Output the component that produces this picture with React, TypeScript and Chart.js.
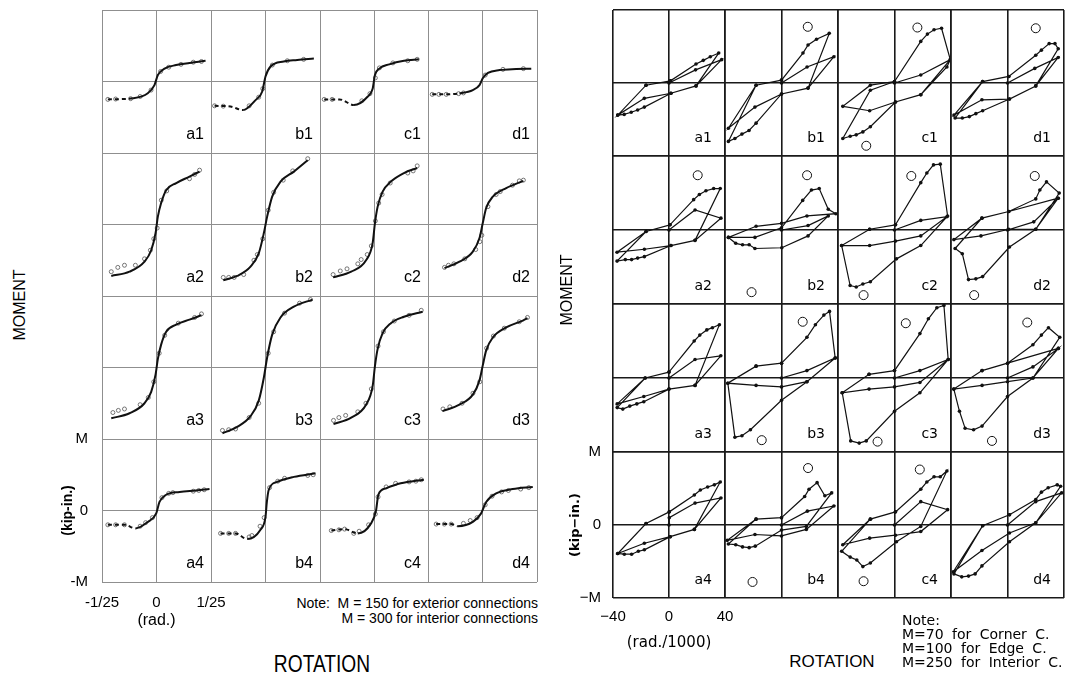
import React, { useEffect, useRef } from "react";
import { Chart, registerables } from "chart.js";
Chart.register(...registerables);

type Pt = [number, number];

// ---------- Axis ticks ----------
const leftXTicks = [-0.04, 0, 0.04];
const leftXTickLabels = ["-1/25", "0", "1/25"];
const leftYTicks = [-1, 0, 1];
const leftYTickLabels = ["-M", "0", "M"];
const rightXTicks = [-40, 0, 40];
const rightXTickLabels = ["\u221240", "0", "40"];
const rightYTicks = [-1, 0, 1];
const rightYTickLabels = ["\u2212M", "0", "M"];
const colLetters = ["a", "b", "c", "d"];

// ---------- Left figure: model curves (rotation in rad, moment in units of M) ----------
const curveA1: Pt[] = [[-0.0357,-0.25],[-0.0174,-0.235],[-0.0064,-0.165],[-0.0015,-0.05],[0.001,0.09],[0.0059,0.18],[0.0144,0.23],[0.0242,0.26],[0.036,0.29]];
const curveB1: Pt[] = [[-0.0374,-0.34],[-0.0257,-0.35],[-0.0164,-0.4],[-0.0073,-0.26],[-0.0024,-0.14],[0,0.07],[0.0037,0.21],[0.0134,0.28],[0.0233,0.3],[0.0355,0.32]];
const curveC1: Pt[] = [[-0.0369,-0.25],[-0.0255,-0.25],[-0.0149,-0.33],[-0.0046,-0.21],[-0.001,-0.1],[0.0007,0.09],[0.0039,0.18],[0.0113,0.24],[0.0222,0.29],[0.0332,0.31]];
const curveD1: Pt[] = [[-0.0369,-0.18],[-0.0266,-0.18],[-0.0169,-0.165],[-0.0071,-0.12],[-0.0022,-0.05],[0.0002,0.045],[0.004,0.12],[0.0125,0.16],[0.0247,0.175],[0.0358,0.18]];
const curveA2: Pt[] = [[-0.0332,-0.72],[-0.0198,-0.66],[-0.0088,-0.52],[-0.0039,-0.36],[-0.0007,-0.12],[0.001,0.11],[0.0034,0.3],[0.0071,0.48],[0.0145,0.58],[0.0242,0.67],[0.0316,0.74]];
const curveB2: Pt[] = [[-0.031,-0.78],[-0.0208,-0.72],[-0.011,-0.59],[-0.0049,-0.4],[-0.0012,-0.12],[0.0012,0.11],[0.0049,0.39],[0.011,0.6],[0.0208,0.74],[0.031,0.9]];
const curveC2: Pt[] = [[-0.0303,-0.74],[-0.0169,-0.66],[-0.0059,-0.5],[-0.001,-0.26],[0.0007,0.02],[0.0027,0.25],[0.0064,0.46],[0.0125,0.6],[0.0222,0.72],[0.032,0.79]];
const curveD2: Pt[] = [[-0.0279,-0.61],[-0.0169,-0.52],[-0.0071,-0.38],[-0.0022,-0.19],[0.0002,0.02],[0.0027,0.23],[0.0076,0.39],[0.0174,0.51],[0.03,0.61]];
const curveA3: Pt[] = [[-0.0332,-0.71],[-0.0198,-0.64],[-0.0088,-0.5],[-0.0039,-0.34],[-0.0007,-0.1],[0.001,0.12],[0.0034,0.32],[0.0071,0.5],[0.0145,0.6],[0.0242,0.67],[0.033,0.73]];
const curveB3: Pt[] = [[-0.0316,-0.92],[-0.0208,-0.83],[-0.011,-0.68],[-0.0049,-0.46],[-0.0012,-0.14],[0.0012,0.14],[0.0049,0.46],[0.011,0.7],[0.0208,0.85],[0.0345,0.95]];
const curveC3: Pt[] = [[-0.03,-0.79],[-0.0169,-0.7],[-0.0059,-0.52],[-0.001,-0.26],[0.0007,0.02],[0.0027,0.26],[0.0064,0.48],[0.0125,0.62],[0.0222,0.71],[0.036,0.78]];
const curveD3: Pt[] = [[-0.0294,-0.61],[-0.0169,-0.52],[-0.0071,-0.38],[-0.0022,-0.18],[0.0002,0.03],[0.0027,0.24],[0.0076,0.42],[0.0174,0.56],[0.03,0.66],[0.033,0.69]];
const curveA4: Pt[] = [[-0.0357,-0.2],[-0.0235,-0.2],[-0.0154,-0.25],[-0.0064,-0.16],[-0.0002,-0.04],[0.0022,0.12],[0.0071,0.22],[0.0169,0.26],[0.0291,0.28],[0.0389,0.3]];
const curveB4: Pt[] = [[-0.033,-0.32],[-0.022,-0.32],[-0.0134,-0.4],[-0.0037,-0.27],[0,-0.09],[0.001,0.12],[0.0024,0.29],[0.0086,0.4],[0.0208,0.47],[0.0367,0.52]];
const curveC4: Pt[] = [[-0.0316,-0.28],[-0.0218,-0.26],[-0.012,-0.32],[-0.0022,-0.18],[0.0015,0],[0.0032,0.22],[0.0088,0.31],[0.0198,0.38],[0.0369,0.43]];
const curveD4: Pt[] = [[-0.034,-0.19],[-0.023,-0.19],[-0.0181,-0.22],[-0.0071,-0.16],[-0.001,-0.04],[0.0027,0.12],[0.01,0.24],[0.0222,0.3],[0.0369,0.33]];

// ---------- Left figure: test points ----------
const testA1: Pt[] = [[-0.0357,-0.25],[-0.03,-0.245],[-0.019,-0.24],[-0.012,-0.21],[-0.004,-0.12],[0.003,0.14],[0.009,0.2],[0.018,0.24],[0.027,0.27],[0.033,0.28]];
const testB1: Pt[] = [[-0.0374,-0.34],[-0.031,-0.345],[-0.012,-0.34],[-0.005,-0.22],[-0.002,-0.1],[0.005,0.23],[0.016,0.29],[0.028,0.31]];
const testC1: Pt[] = [[-0.0369,-0.25],[-0.031,-0.25],[-0.009,-0.27],[-0.003,-0.17],[0.001,0.05],[0.004,0.19],[0.014,0.26],[0.025,0.29],[0.032,0.31]];
const testD1: Pt[] = [[-0.0369,-0.18],[-0.032,-0.18],[-0.0266,-0.18],[-0.0175,-0.17],[-0.014,-0.16],[0.002,0.09],[0.015,0.17],[0.03,0.18]];
const testA2: Pt[] = [[-0.0332,-0.66],[-0.0284,-0.6],[-0.0235,-0.57],[-0.0155,-0.57],[-0.0088,-0.48],[-0.0045,-0.36],[-0.002,-0.2],[0.0005,-0.05],[0.0035,0.34],[0.0075,0.47],[0.0242,0.64],[0.028,0.7],[0.0316,0.76]];
const testB2: Pt[] = [[-0.031,-0.74],[-0.027,-0.74],[-0.023,-0.74],[-0.016,-0.7],[-0.0085,-0.5],[-0.006,-0.42],[-0.002,-0.2],[0.002,0.2],[0.006,0.45],[0.013,0.62],[0.02,0.75],[0.031,0.92]];
const testC2: Pt[] = [[-0.0303,-0.7],[-0.025,-0.65],[-0.02,-0.62],[-0.012,-0.55],[-0.0095,-0.49],[-0.005,-0.42],[-0.002,-0.3],[0.001,0.05],[0.0035,0.3],[0.006,0.42],[0.012,0.58],[0.025,0.72],[0.029,0.75],[0.032,0.82]];
const testD2: Pt[] = [[-0.0279,-0.6],[-0.025,-0.57],[-0.021,-0.55],[-0.013,-0.48],[-0.005,-0.35],[-0.002,-0.24],[-0.0005,-0.15],[0.004,0.25],[0.01,0.42],[0.013,0.46],[0.022,0.55],[0.027,0.61],[0.03,0.62]];
const testA3: Pt[] = [[-0.032,-0.63],[-0.028,-0.6],[-0.0235,-0.58],[-0.012,-0.52],[-0.006,-0.42],[-0.002,-0.2],[0.002,0.2],[0.006,0.45],[0.016,0.62],[0.028,0.7],[0.033,0.75]];
const testB3: Pt[] = [[-0.0316,-0.88],[-0.027,-0.87],[-0.022,-0.86],[-0.012,-0.7],[-0.005,-0.5],[0.002,0.2],[0.006,0.5],[0.014,0.76],[0.025,0.9],[0.033,0.95]];
const testC3: Pt[] = [[-0.03,-0.74],[-0.026,-0.7],[-0.021,-0.67],[-0.012,-0.62],[-0.006,-0.5],[-0.002,-0.3],[0.003,0.3],[0.007,0.5],[0.015,0.65],[0.026,0.73],[0.035,0.8]];
const testD3: Pt[] = [[-0.029,-0.58],[-0.024,-0.55],[-0.015,-0.5],[-0.007,-0.36],[-0.002,-0.2],[0.003,0.27],[0.008,0.44],[0.016,0.55],[0.027,0.64],[0.033,0.7]];
const testA4: Pt[] = [[-0.0357,-0.2],[-0.03,-0.2],[-0.0235,-0.2],[-0.012,-0.22],[-0.008,-0.17],[-0.003,-0.1],[0.004,0.18],[0.009,0.24],[0.012,0.25],[0.027,0.27],[0.031,0.28],[0.035,0.29]];
const testB4: Pt[] = [[-0.033,-0.32],[-0.027,-0.32],[-0.022,-0.32],[-0.012,-0.37],[-0.01,-0.35],[-0.004,-0.22],[-0.001,-0.1],[0.003,0.32],[0.009,0.41],[0.014,0.45],[0.031,0.49],[0.035,0.5]];
const testC4: Pt[] = [[-0.0316,-0.28],[-0.026,-0.27],[-0.0218,-0.26],[-0.015,-0.32],[-0.011,-0.29],[-0.004,-0.2],[0.001,-0.05],[0.003,0.19],[0.009,0.33],[0.016,0.38],[0.026,0.4],[0.031,0.41],[0.035,0.43]];
const testD4: Pt[] = [[-0.034,-0.19],[-0.028,-0.19],[-0.023,-0.19],[-0.014,-0.18],[-0.009,-0.14],[-0.004,-0.1],[0.002,0.08],[0.007,0.2],[0.014,0.26],[0.019,0.28],[0.028,0.3],[0.034,0.32]];

// number of leading dashed segments (extrapolated part of model)
const dashA1 = 1, dashB1 = 2, dashC1 = 2, dashD1 = 2, dashA4 = 2, dashB4 = 2, dashC4 = 2, dashD4 = 2;

// ---------- Right figure: cyclic loops (rotation in rad/1000, moment in units of M) ----------
const loopA1: Pt[] = [[0,0],[19,0.18],[37.6,0.32],[19.3,-0.04],[1.4,-0.14],[-17.6,-0.21],[-36.6,-0.44],[-16.4,-0.03],[1,0.03],[19.3,0.26],[24.5,0.31],[29.5,0.36],[35.5,0.41],[19.3,-0.04],[1.4,-0.14],[-17.6,-0.33],[-22.4,-0.37],[-27,-0.4],[-32,-0.43],[-36.6,-0.44],[-16.4,-0.03],[1,0.03]];
const loopB1: Pt[] = [[0,0],[18.1,0.22],[37.1,0.36],[18.8,-0.07],[0,-0.15],[-18.8,-0.33],[-37.6,-0.62],[-18,-0.03],[0,0.04],[15.2,0.41],[18.8,0.52],[24.8,0.6],[33.8,0.68],[18.8,-0.07],[0,-0.15],[-18,-0.55],[-23,-0.65],[-28,-0.7],[-33,-0.76],[-37.6,-0.8],[-18,-0.03],[0,0.04]];
const loopC1: Pt[] = [[0,0],[18.6,0.11],[39.5,0.32],[37.1,0.22],[18.6,-0.16],[0.7,-0.26],[-17.6,-0.38],[-36.6,-0.32],[-17.1,-0.03],[0,0.02],[18.6,0.57],[23.3,0.67],[28,0.73],[33.3,0.75],[39.5,0.32],[18.6,-0.16],[0.7,-0.26],[-17.1,-0.6],[-22.4,-0.67],[-27.1,-0.71],[-31.4,-0.73],[-36.6,-0.76],[-17.1,-0.1],[0,0.02]];
const loopD1: Pt[] = [[0,0],[19.3,0.2],[35.9,0.35],[20,-0.04],[1.4,-0.22],[-18.1,-0.23],[-37.9,-0.44],[-17.6,0.02],[0.9,0.09],[20,0.38],[24,0.45],[29.5,0.54],[33.6,0.54],[35.9,0.47],[20,-0.04],[1.4,-0.22],[-17.6,-0.38],[-22.4,-0.42],[-27,-0.46],[-32,-0.48],[-37.1,-0.48],[-17.6,0.02],[0.9,0.09]];
const loopA2: Pt[] = [[0,0],[18.6,0.27],[37.1,0.16],[18.6,-0.14],[1.4,-0.21],[-17.6,-0.26],[-37.1,-0.3],[-16.4,-0.02],[0.7,0.07],[17.6,0.41],[21.7,0.48],[26.4,0.53],[31.9,0.56],[36.6,0.56],[18.6,-0.14],[1.4,-0.21],[-17.6,-0.36],[-22.4,-0.38],[-26.7,-0.4],[-31.2,-0.4],[-37.1,-0.42],[-16.4,-0.02],[0.7,0.07]];
const loopB2: Pt[] = [[0,0],[18.8,0.06],[33.1,0.19],[18.8,-0.08],[0.2,-0.24],[-18.8,-0.25],[-22.9,-0.2],[-27.6,-0.2],[-32.4,-0.18],[-37.6,-0.1],[-18,0.05],[0,0.09],[18,0.19],[38.5,0.22],[33.1,0.28],[26.7,0.56],[21.2,0.54],[15,0.4],[0,0.03],[-18.8,-0.1],[-37.6,-0.1]];
const loopC2: Pt[] = [[0,0],[18.6,0.13],[37.1,0.18],[18.6,-0.08],[0.7,-0.15],[-17.6,-0.21],[-37.4,-0.21],[-17.6,0.01],[0.7,0.07],[18.6,0.64],[22.9,0.77],[27.6,0.88],[32.4,0.89],[37.6,0.19],[18.6,-0.21],[1.4,-0.39],[-17.1,-0.7],[-22.4,-0.73],[-27.1,-0.77],[-31.4,-0.75],[-37.4,-0.21],[-17.6,0.01],[0.7,0.07]];
const loopD2: Pt[] = [[0,0],[18.6,0.11],[35.9,0.43],[20,0.01],[0.9,0.01],[-18.8,-0.08],[-37.9,-0.13],[-18.1,0.16],[0.9,0.25],[20,0.42],[22.9,0.54],[27.6,0.65],[36.6,0.5],[20,0.01],[1.4,-0.23],[-17.6,-0.63],[-22.4,-0.66],[-27.6,-0.67],[-32,-0.32],[-37.1,-0.25],[-18.1,0.16],[0.9,0.25],[35.9,0.43]];
const loopA3: Pt[] = [[0,0],[18.6,0.25],[37,0.3],[18.6,-0.1],[0,-0.15],[-18,-0.25],[-37,-0.35],[-17,0],[0,0.08],[18,0.5],[22,0.58],[27,0.65],[31,0.68],[36,0.72],[18.6,-0.1],[0,-0.15],[-18,-0.32],[-23,-0.35],[-28,-0.38],[-33,-0.42],[-37,-0.4],[-17,0],[0,0.08]];
const loopB3: Pt[] = [[0,0],[18,0.1],[38,0.27],[18,-0.05],[0,-0.12],[-18,-0.1],[-38,-0.07],[-18,0.16],[0,0.2],[18,0.55],[24,0.72],[30,0.85],[34,0.9],[38,0.27],[18,-0.05],[0,-0.3],[-22,-0.7],[-28,-0.78],[-33,-0.8],[-38,-0.07],[-18,0.16],[0,0.2]];
const loopC3: Pt[] = [[0,0],[18,0.1],[38,0.25],[18,-0.06],[0,-0.12],[-18,-0.15],[-37,-0.2],[-18,0.05],[0,0.1],[18,0.6],[24,0.8],[30,0.95],[35,0.98],[38,0.25],[18,-0.2],[0,-0.45],[-20,-0.85],[-25,-0.88],[-31,-0.85],[-37,-0.2],[-18,0.05],[0,0.1]];
const loopD3: Pt[] = [[0,0],[18,0.15],[36,0.4],[18,0],[0,-0.05],[-18,-0.1],[-38,-0.15],[-18,0.1],[0,0.2],[18,0.45],[24,0.58],[29,0.68],[37,0.55],[18,0],[0,-0.25],[-18,-0.65],[-24,-0.7],[-30,-0.68],[-34,-0.45],[-38,-0.15],[-18,0.1],[0,0.2],[36,0.4]];
const loopA4: Pt[] = [[0,0],[0.2,0.1],[18.6,0.3],[37.1,0.37],[18.1,-0.06],[0.9,-0.16],[-17.6,-0.25],[-36.6,-0.39],[-16.4,0.02],[0.2,0.18],[18.1,0.41],[22.4,0.48],[27.6,0.52],[32.4,0.55],[36.6,0.59],[18.1,-0.06],[0.9,-0.16],[-17.6,-0.34],[-21.9,-0.36],[-26.7,-0.4],[-31.9,-0.4],[-36.6,-0.39],[-16.4,0.02],[0.2,0.18]];
const loopB4: Pt[] = [[0,0],[18.3,0.19],[37.1,0.26],[17.6,-0.06],[0,-0.15],[-18.8,-0.13],[-38.4,-0.21],[-18,0.08],[0,0.1],[16.4,0.39],[19.5,0.49],[25.2,0.58],[30.7,0.4],[35.5,0.44],[17.6,-0.02],[0,-0.07],[-18.6,-0.29],[-22.9,-0.31],[-27.6,-0.3],[-32.4,-0.27],[-37.6,-0.26],[-18,0.08],[0,0.1]];
const loopC4: Pt[] = [[0,0],[18.6,0.32],[37.6,0.21],[18.6,-0.09],[0.7,-0.14],[-17.6,-0.18],[-36.6,-0.27],[-17.1,0.08],[0.7,0.18],[18.6,0.49],[22.9,0.59],[28,0.66],[32.4,0.66],[37.1,0.74],[18.6,-0.02],[1.4,-0.23],[-17.1,-0.52],[-22.4,-0.57],[-26.7,-0.48],[-31.4,-0.44],[-37.4,-0.36],[-17.1,0.08],[0.7,0.18]];
const loopD4: Pt[] = [[0,0],[20,0.32],[38.3,0.44],[20,0.03],[1.4,-0.11],[-18.1,-0.35],[-38.4,-0.64],[-17.6,-0.01],[1.4,0.14],[20,0.35],[24,0.45],[28.8,0.51],[35.2,0.55],[37.6,0.53],[20,0.03],[1.4,-0.23],[-18.1,-0.56],[-22.9,-0.67],[-27.6,-0.7],[-32.4,-0.71],[-37.9,-0.67],[-17.6,-0.01],[1.4,0.14]];

// ---------- Right figure: predicted ultimate moments (open circles) ----------
const peakA1: Pt[] = [];
const peakB1: Pt[] = [[18.6,0.77]];
const peakC1: Pt[] = [[16.2,0.76],[-20,-0.86]];
const peakD1: Pt[] = [[20,0.75]];
const peakA2: Pt[] = [[20.5,0.74]];
const peakB2: Pt[] = [[18.1,0.74],[-21.2,-0.84]];
const peakC2: Pt[] = [[11.9,0.73],[-21.9,-0.88]];
const peakD2: Pt[] = [[19.3,0.73],[-23.6,-0.88]];
const peakA3: Pt[] = [];
const peakB3: Pt[] = [[15,0.76],[-14,-0.84]];
const peakC3: Pt[] = [[8,0.74],[-12,-0.86]];
const peakD3: Pt[] = [[14,0.75],[-11,-0.85]];
const peakA4: Pt[] = [];
const peakB4: Pt[] = [[18.8,0.78],[-20.5,-0.78]];
const peakC4: Pt[] = [[17.9,0.76],[-21.9,-0.77]];
const peakD4: Pt[] = [];

// lookup tables built from the named arrays
const leftCurves: Record<string, Pt[]> = { a1: curveA1, b1: curveB1, c1: curveC1, d1: curveD1, a2: curveA2, b2: curveB2, c2: curveC2, d2: curveD2, a3: curveA3, b3: curveB3, c3: curveC3, d3: curveD3, a4: curveA4, b4: curveB4, c4: curveC4, d4: curveD4 };
const leftTests: Record<string, Pt[]> = { a1: testA1, b1: testB1, c1: testC1, d1: testD1, a2: testA2, b2: testB2, c2: testC2, d2: testD2, a3: testA3, b3: testB3, c3: testC3, d3: testD3, a4: testA4, b4: testB4, c4: testC4, d4: testD4 };
const leftDash: Record<string, number> = { a1: dashA1, b1: dashB1, c1: dashC1, d1: dashD1, a4: dashA4, b4: dashB4, c4: dashC4, d4: dashD4 };
const rightLoops: Record<string, Pt[]> = { a1: loopA1, b1: loopB1, c1: loopC1, d1: loopD1, a2: loopA2, b2: loopB2, c2: loopC2, d2: loopD2, a3: loopA3, b3: loopB3, c3: loopC3, d3: loopD3, a4: loopA4, b4: loopB4, c4: loopC4, d4: loopD4 };
const rightPeaks: Record<string, Pt[]> = { a1: peakA1, b1: peakB1, c1: peakC1, d1: peakD1, a2: peakA2, b2: peakB2, c2: peakC2, d2: peakD2, a3: peakA3, b3: peakB3, c3: peakC3, d3: peakD3, a4: peakA4, b4: peakB4, c4: peakC4, d4: peakD4 };

// ---------- Layout ----------
const SANS = "'Liberation Sans', Arial, sans-serif";
const DEJAVU = "'DejaVu Sans', sans-serif";
const leftCols = [102, 211, 320, 428, 537];
const leftRows = [10, 153, 296, 439, 582];
const rightCols = [613, 725, 838, 951, 1064];
const rightRows = [10, 156, 304, 452, 598];

interface Spec {
  id: string;
  kind: "left" | "right";
  x0: number; y0: number; w: number; h: number;
  m: { l: number; r: number; t: number; b: number };
  line: Pt[]; marks: Pt[]; dashN: number; axes: boolean;
}

function buildSpecs(kind: "left" | "right"): Spec[] {
  const cols = kind === "left" ? leftCols : rightCols;
  const rows = kind === "left" ? leftRows : rightRows;
  const out: Spec[] = [];
  for (let r = 0; r < 4; r++) {
    for (let c = 0; c < 4; c++) {
      const id = colLetters[c] + (r + 1);
      const axes = r === 3 && c === 0;
      const m = axes
        ? kind === "left" ? { l: 42, r: 40, t: 36, b: 48 } : { l: 45, r: 40, t: 36, b: 54 }
        : { l: 3, r: 3, t: 3, b: 3 };
      out.push({
        id, kind, axes, m,
        x0: cols[c], y0: rows[r], w: cols[c + 1] - cols[c], h: rows[r + 1] - rows[r],
        line: kind === "left" ? leftCurves[id] : rightLoops[id],
        marks: kind === "left" ? leftTests[id] : rightPeaks[id],
        dashN: kind === "left" ? leftDash[id] || 0 : 0,
      });
    }
  }
  return out;
}
const leftSpecs = buildSpecs("left");
const rightSpecs = buildSpecs("right");

function ChartPanel({ s }: { s: Spec }) {
  const ref = useRef<HTMLCanvasElement | null>(null);
  const W = s.w + s.m.l + s.m.r;
  const H = s.h + s.m.t + s.m.b;
  useEffect(() => {
    if (!ref.current) return;
    const left = s.kind === "left";
    const xt = left ? leftXTicks : rightXTicks;
    const yt = left ? leftYTicks : rightYTicks;
    const xl = left ? leftXTickLabels : rightXTickLabels;
    const yl = left ? leftYTickLabels : rightYTickLabels;
    const gridColor = left ? "#8f8f8f" : "#1a1a1a";
    const gridWidth = left ? 1 : 1.6;
    const toXY = (p: Pt[]) => p.map(([x, y]) => ({ x, y }));
    const datasets: any[] = left
      ? [
          {
            data: toXY(s.line), showLine: true, borderColor: "#111", borderWidth: 2,
            pointRadius: 0, cubicInterpolationMode: "monotone",
            segment: { borderDash: (c: any) => (c.p1DataIndex <= s.dashN ? [4, 3] : undefined) },
          },
          { data: toXY(s.marks), showLine: false, pointRadius: 2, borderColor: "#555", borderWidth: 0.8, backgroundColor: "rgba(0,0,0,0)" },
        ]
      : [
          {
            data: toXY(s.line), showLine: true, borderColor: "#111", borderWidth: 1.2, tension: 0,
            pointRadius: 1.8, pointBackgroundColor: "#111", pointBorderWidth: 0,
          },
          { data: toXY(s.marks), showLine: false, pointRadius: 4.5, borderColor: "#111", borderWidth: 1, backgroundColor: "rgba(0,0,0,0)" },
        ];
    const tickFont = { family: SANS, size: 15 };
    const chart = new Chart(ref.current, {
      type: "scatter",
      data: { datasets },
      options: {
        animation: false,
        responsive: false,
        maintainAspectRatio: false,
        events: [],
        layout: { autoPadding: false, padding: { left: 0, right: s.m.r, top: s.m.t, bottom: 0 } },
        plugins: { legend: { display: false }, tooltip: { enabled: false } },
        scales: {
          x: {
            type: "linear", position: "bottom",
            min: xt[0], max: xt[xt.length - 1],
            afterBuildTicks: (sc: any) => { sc.ticks = xt.map((v) => ({ value: v })); },
            afterFit: (sc: any) => { sc.height = s.m.b; },
            grid: { color: gridColor, lineWidth: gridWidth, drawTicks: false },
            border: { display: false },
            ticks: {
              display: s.axes, autoSkip: false, maxRotation: 0, color: "#000",
              padding: left ? 12 : 10, font: tickFont,
              callback: (_v: any, i: number) => xl[i] ?? "",
            },
            title: {
              display: s.axes, text: left ? "(rad.)" : "(rad./1000)", color: "#000",
              padding: { top: 0, bottom: 0 },
              font: left ? { family: SANS, size: 16 } : { family: DEJAVU, size: 15 },
            },
          },
          y: {
            type: "linear", position: "left",
            min: yt[0], max: yt[yt.length - 1],
            afterBuildTicks: (sc: any) => { sc.ticks = yt.map((v) => ({ value: v })); },
            afterFit: (sc: any) => { sc.width = s.m.l; },
            grid: { color: gridColor, lineWidth: gridWidth, drawTicks: false },
            border: { display: false },
            ticks: {
              display: s.axes, autoSkip: false, color: "#000",
              padding: left ? 14 : 12, font: tickFont,
              callback: (_v: any, i: number) => yl[i] ?? "",
            },
            title: {
              display: s.axes, text: left ? "(kip-in.)" : "(kip\u2212in.)", color: "#000",
              padding: { top: 0, bottom: 0 },
              font: left ? { family: SANS, size: 14, weight: "bold" } : { family: DEJAVU, size: 13, weight: "bold" },
            },
          },
        },
      } as any,
    });
    return () => chart.destroy();
  }, [s]);
  return (
    <canvas
      ref={ref}
      width={W}
      height={H}
      style={{ position: "absolute", left: s.x0 - s.m.l, top: s.y0 - s.m.t, width: W, height: H }}
    />
  );
}

function Txt(props: { x: number; y: number; children: React.ReactNode; size: number; family?: string; rotate?: boolean; weight?: string; sx?: number; ls?: number }) {
  const { x, y, size, family = SANS, rotate, weight = "normal", sx = 1, ls = 0 } = props;
  return (
    <div
      style={{
        position: "absolute", left: x, top: y, whiteSpace: "nowrap",
        transform: `translate(-50%,-50%)${rotate ? " rotate(-90deg)" : ""}${sx !== 1 ? ` scaleX(${sx})` : ""}`,
        fontFamily: family, fontSize: size, fontWeight: weight as any, lineHeight: 1, color: "#000",
        letterSpacing: ls,
      }}
    >
      {props.children}
    </div>
  );
}

export default function App() {
  return (
    <div style={{ position: "absolute", left: 0, top: 0, width: 1068, height: 674, background: "#fff", overflow: "hidden" }}>
      {leftSpecs.map((s) => <ChartPanel key={"L" + s.id} s={s} />)}
      {rightSpecs.map((s) => <ChartPanel key={"R" + s.id} s={s} />)}

      {leftSpecs.map((s) => (
        <div key={"LL" + s.id} style={{ position: "absolute", right: 1068 - (s.x0 + s.w - 7), top: s.y0 + s.h - 19, transform: "translateY(-50%)", fontFamily: SANS, fontSize: 16, lineHeight: 1 }}>
          {s.id}
        </div>
      ))}
      {rightSpecs.map((s) => (
        <div key={"RL" + s.id} style={{ position: "absolute", right: 1068 - (s.x0 + s.w - 13), top: s.y0 + s.h - 19, transform: "translateY(-50%)", fontFamily: DEJAVU, fontSize: 14, lineHeight: 1 }}>
          {s.id}
        </div>
      ))}

      <Txt x={20} y={305} size={16} rotate>MOMENT</Txt>
      <Txt x={322} y={664} size={24} sx={0.8}>ROTATION</Txt>
      <div style={{ position: "absolute", right: 1068 - 538, top: 596, textAlign: "right", fontFamily: SANS, fontSize: 14, lineHeight: "14.5px", whiteSpace: "pre" }}>
        {"Note:  M = 150 for exterior connections\nM = 300 for interior connections"}
      </div>

      <Txt x={567} y={290} size={16} rotate>MOMENT</Txt>
      <Txt x={832} y={661} size={17}>ROTATION</Txt>
      <div style={{ position: "absolute", left: 902, top: 613, fontFamily: DEJAVU, fontSize: 14, lineHeight: "14px", whiteSpace: "pre", wordSpacing: 4 }}>
        {"Note:\nM=70 for Corner C.\nM=100 for Edge C.\nM=250 for Interior C."}
      </div>
    </div>
  );
}
